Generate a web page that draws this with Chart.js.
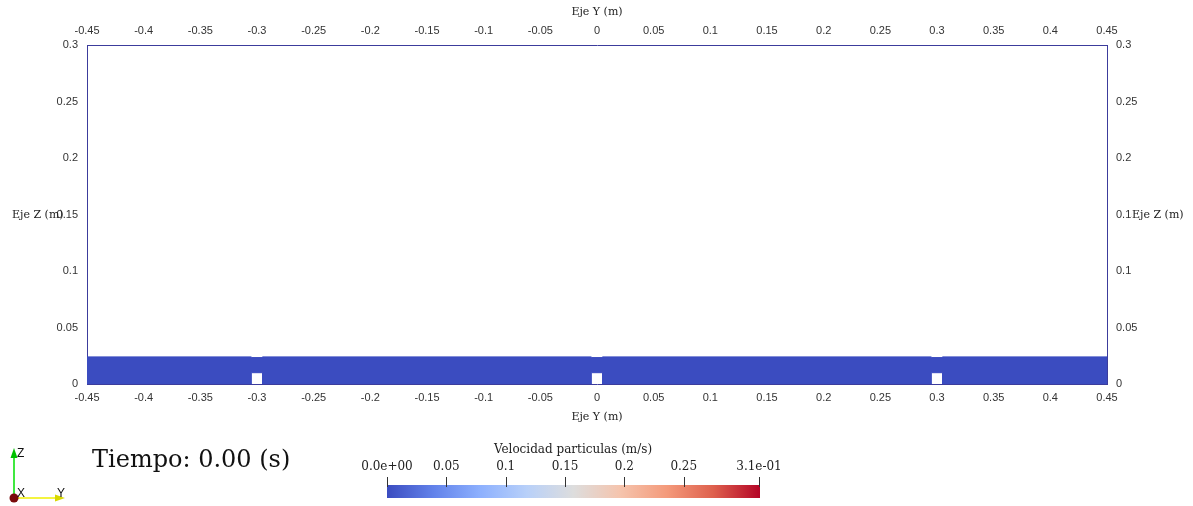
<!DOCTYPE html>
<html>
<head>
<meta charset="utf-8">
<script src="https://cdn.jsdelivr.net/npm/chart.js@4.4.1/dist/chart.umd.min.js"></script>
<style>
  html, body { margin: 0; padding: 0; background: #fff; }
  #wrap { position: relative; width: 1193px; height: 506px; overflow: hidden; }
  #chart { position: absolute; left: 0; top: 0; }
  .serif { position: absolute; font-family: "DejaVu Serif", serif; color: #222; white-space: nowrap; line-height: 1; }
  .axis-title { font-size: 11px; }
  #tiempo { left: 92px; top: 447px; font-size: 24px; color: #111; }
  #cbar { position: absolute; left: 387px; top: 485px; width: 373px; height: 13px; }
  .cb-tick { position: absolute; top: 477px; width: 1px; height: 10px; background: #333; }
  .cb-label { font-size: 12px; transform: translateX(-50%); top: 460px; }
  #triad { position: absolute; left: 0; top: 440px; }
</style>
</head>
<body>
<div id="wrap">
  <canvas id="chart" width="1193" height="506"></canvas>

  <div class="serif axis-title" style="left:597px; top:6px; transform:translateX(-50%);">Eje Y (m)</div>
  <div class="serif axis-title" style="left:597px; top:411px; transform:translateX(-50%);">Eje Y (m)</div>
  <div class="serif axis-title" style="left:12px; top:209px;">Eje Z (m)</div>
  <div class="serif axis-title" style="left:1132px; top:209px; background:#fff;">Eje Z (m)</div>

  <div class="serif" id="tiempo">Tiempo: 0.00 (s)</div>

  <div class="serif" id="cb-title" style="left:573px; top:443px; font-size:12px; transform:translateX(-50%);">Velocidad particulas (m/s)</div>
  <div id="cbar"></div>
  <div id="cb-ticks"></div>

  <svg id="triad" width="80" height="66" viewBox="0 440 80 66" style="top:440px">
    <line x1="14" y1="498" x2="14" y2="456" stroke="#00e000" stroke-width="1.5"/>
    <polygon points="14,448 10.5,458 17.5,458" fill="#00c000"/>
    <line x1="14" y1="498" x2="56" y2="498" stroke="#f0f000" stroke-width="1.5"/>
    <polygon points="65,498 55,494.5 55,501.5" fill="#d8d800"/>
    <circle cx="14" cy="498" r="4.5" fill="#7a0c0c"/>
    <text x="17" y="457" font-family="Liberation Sans, sans-serif" font-size="12" fill="#111">Z</text>
    <text x="17" y="497" font-family="Liberation Sans, sans-serif" font-size="12" fill="#111">X</text>
    <text x="57" y="497" font-family="Liberation Sans, sans-serif" font-size="12" fill="#111">Y</text>
  </svg>
</div>

<script>
// axis ranges and tick values (m)
const yAxisTicks = [-0.45, -0.4, -0.35, -0.3, -0.25, -0.2, -0.15, -0.1, -0.05, 0, 0.05, 0.1, 0.15, 0.2, 0.25, 0.3, 0.35, 0.4, 0.45]
const zAxisTicks = [0, 0.05, 0.1, 0.15, 0.2, 0.25, 0.3]

// outline of the particle bed (Y, Z) with the three openings at the floor
const bedY = [
  -0.45, -0.305, -0.305, -0.295, -0.295, -0.005, -0.005, 0.005, 0.005, 0.295, 0.295, 0.305, 0.305, 0.45,
  0.45, 0.305, 0.305, 0.295, 0.295, 0.005, 0.005, -0.005, -0.005, -0.295, -0.295, -0.305, -0.305, -0.45
]
const bedZ = [
  0, 0, 0.01, 0.01, 0, 0, 0.01, 0.01, 0, 0, 0.01, 0.01, 0, 0,
  0.024, 0.024, 0.0234, 0.0234, 0.024, 0.024, 0.0234, 0.0234, 0.024, 0.024, 0.0234, 0.0234, 0.024, 0.024
]

// colour bar (coolwarm)
const speedTicks = [0, 0.05, 0.1, 0.15, 0.2, 0.25, 0.3134]
const speedLabels = ['0.0e+00', '0.05', '0.1', '0.15', '0.2', '0.25', '3.1e-01']
const coolwarm = ['#3b4cc0', '#6282ea', '#8db0fe', '#b8d0f9', '#dddddd', '#f5c4ad', '#f49a7b', '#de604d', '#b40426']

const bedPoints = bedY.map((y, i) => ({ x: y, y: bedZ[i] }))

const FRAME = '#3c3c9c'
const tickFont = { family: 'Liberation Sans, Arial, sans-serif', size: 11 }

const fixedTicks = (values) => (scale) => {
  scale.ticks = values.map((v) => ({ value: v }))
}

const axisCommon = (values, size, isX) => ({
  type: 'linear',
  min: values[0],
  max: values[values.length - 1],
  grid: { display: false, drawTicks: false },
  border: { display: true, color: FRAME, width: 1 },
  ticks: {
    font: tickFont,
    color: '#333',
    padding: isX ? 7 : 9,
    autoSkip: false,
    maxRotation: 0,
    callback: (v) => String(v)
  },
  afterBuildTicks: fixedTicks(values),
  afterFit: (scale) => {
    if (isX) scale.height = size
    else scale.width = size
  }
})

const CONFIG = {
  type: 'scatter',
  data: {
    datasets: [
      {
        data: bedPoints,
        showLine: true,
        fill: 'shape',
        backgroundColor: '#3b4cc0',
        borderColor: '#3b4cc0',
        borderWidth: 1,
        pointRadius: 0,
        tension: 0,
        xAxisID: 'x',
        yAxisID: 'y'
      }
    ]
  },
  options: {
    responsive: false,
    animation: false,
    layout: { padding: 0, autoPadding: false },
    plugins: {
      legend: { display: false },
      tooltip: { enabled: false }
    },
    scales: {
      x: { ...axisCommon(yAxisTicks, 122, true), position: 'bottom' },
      x2: { ...axisCommon(yAxisTicks, 45, true), position: 'top' },
      y: { ...axisCommon(zAxisTicks, 87, false), position: 'left' },
      y2: { ...axisCommon(zAxisTicks, 86, false), position: 'right' }
    }
  }
}

// eslint-disable-next-line no-unused-vars
const chart = new Chart(document.getElementById('chart'), CONFIG)

// colour bar with its ticks and labels
const cbar = document.getElementById('cbar')
cbar.style.background = `linear-gradient(to right, ${coolwarm.join(', ')})`
const cbLeft = 387
const cbWidth = 373
const cbMax = speedTicks[speedTicks.length - 1]
const tickHost = document.getElementById('cb-ticks')
speedTicks.forEach((v, i) => {
  const px = cbLeft + (v / cbMax) * (cbWidth - 1)
  const tick = document.createElement('div')
  tick.className = 'cb-tick'
  tick.style.left = `${Math.round(px)}px`
  tickHost.appendChild(tick)
  const label = document.createElement('div')
  label.className = 'serif cb-label'
  label.style.left = `${px}px`
  label.textContent = speedLabels[i]
  tickHost.appendChild(label)
})
</script>
</body>
</html>
